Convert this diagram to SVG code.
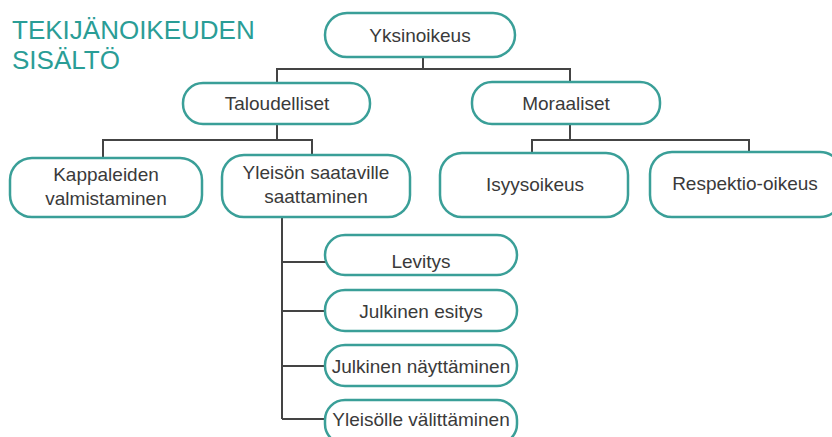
<svg xmlns="http://www.w3.org/2000/svg" width="832" height="437" viewBox="0 0 832 437">
<style>
.box{fill:#fff;stroke:#3a9f98;stroke-width:2.5}
.t{font-family:"Liberation Sans",Arial,sans-serif;font-size:19px;fill:#3a3a3a;text-anchor:middle}
.title{font-family:"Liberation Sans",Arial,sans-serif;font-size:26px;fill:#2a9d96}
.c{fill:none;stroke:#444;stroke-width:2}
</style>
<rect width="832" height="437" fill="#fff"/>
<text class="title" x="12" y="39">TEKIJÄNOIKEUDEN</text>
<text class="title" x="12" y="69">SISÄLTÖ</text>
<g id="connectors">
<path class="c" d="M423 57V69M277 83V69H570V83"/>
<path class="c" d="M277 124V140M103 157V140H312V155"/>
<path class="c" d="M570 124V140M532 153V140H749V152"/>
<path class="c" d="M282 217V419M282 262H326M282 311H326M282 366H326M282 419H326"/>
</g>
<g id="yksinoikeus"><rect class="box" x="325" y="13" width="190" height="44" rx="22"/><text class="t" x="420" y="42">Yksinoikeus</text></g>
<g id="taloudelliset"><rect class="box" x="183" y="83" width="187" height="41" rx="20"/><text class="t" x="277" y="110">Taloudelliset</text></g>
<g id="moraaliset"><rect class="box" x="472" y="82" width="188" height="42" rx="20"/><text class="t" x="566" y="110">Moraaliset</text></g>
<g id="kappaleiden"><rect class="box" x="10" y="158" width="192" height="59" rx="22"/><text class="t" x="106" y="181">Kappaleiden</text><text class="t" x="106" y="205">valmistaminen</text></g>
<g id="yleison"><rect class="box" x="222" y="155" width="188" height="62" rx="22"/><text class="t" x="316" y="179">Yleisön saataville</text><text class="t" x="316" y="203">saattaminen</text></g>
<g id="isyysoikeus"><rect class="box" x="440" y="153" width="188" height="64" rx="22"/><text class="t" x="535" y="191">Isyysoikeus</text></g>
<g id="respektio"><rect class="box" x="650" y="152" width="192" height="65" rx="22"/><text class="t" x="745" y="190">Respektio-oikeus</text></g>
<g id="levitys"><rect class="box" x="325" y="235" width="192" height="40" rx="20"/><text class="t" x="421" y="268">Levitys</text></g>
<g id="julkinen-esitys"><rect class="box" x="325" y="290" width="192" height="41" rx="20"/><text class="t" x="421" y="318">Julkinen esitys</text></g>
<g id="julkinen-nayttaminen"><rect class="box" x="325" y="345" width="192" height="41" rx="20"/><text class="t" x="421" y="373">Julkinen näyttäminen</text></g>
<g id="yleisolle"><rect class="box" x="325" y="400" width="192" height="44" rx="20"/><text class="t" x="421" y="426">Yleisölle välittäminen</text></g>
</svg>
